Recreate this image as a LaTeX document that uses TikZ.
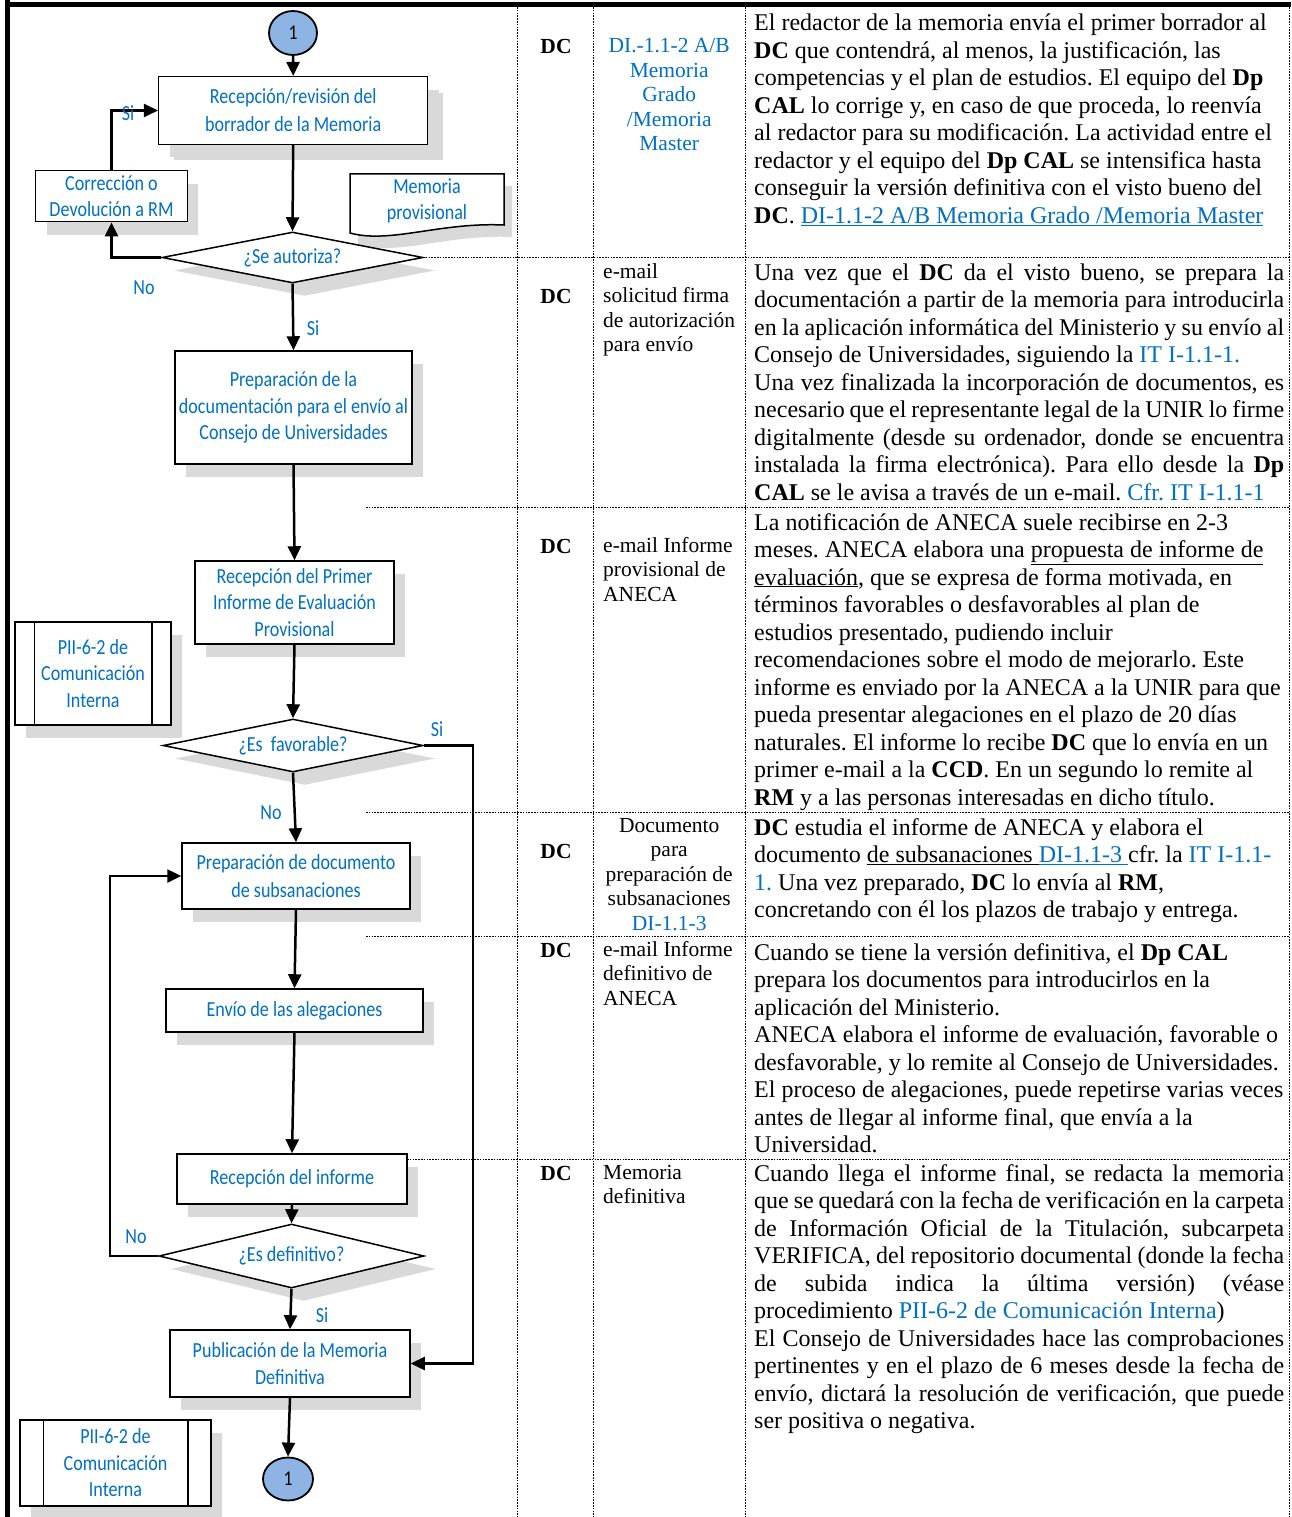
\documentclass[tikz,border=0pt]{standalone}
\usepackage{fontspec}
\setmainfont{Liberation Serif}
\newfontfamily\flowfont[FakeStretch=0.84]{Carlito}
\usetikzlibrary{shapes.geometric,arrows.meta,shadows}
\definecolor{fblue}{RGB}{0,112,192}
\definecolor{cfill}{RGB}{141,180,226}
\definecolor{shad}{RGB}{217,217,217}
\newcommand\J[1]{\hbox to 530pt{#1}}
\newcommand\Rl[1]{\hbox{#1}}
\newcommand\Cc[1]{\hbox to 152pt{\hfil#1\hfil}}
\newcommand\bl[1]{\textcolor{fblue}{#1}}
\newcommand\rowfont{\frenchspacing\fontsize{24}{27.5}\selectfont}
\newcommand\colfont{\frenchspacing\fontsize{21.5}{24.5}\selectfont}
\frenchspacing
\begin{document}
\begin{tikzpicture}[x=1pt,y=-1pt,
 fl/.style={font=\flowfont\fontsize{21.5}{26.5}\selectfont, text=fblue, align=center, inner sep=0pt},
 lbl/.style={font=\flowfont\fontsize{21.5}{26.5}\selectfont, text=fblue, inner sep=0pt},
 box/.style={fl, draw=black, line width=1.5pt, fill=white, drop shadow={shadow xshift=11pt, shadow yshift=-13pt, fill=shad, opacity=1}},
 dia/.style={fl, diamond, aspect=5, draw=black, line width=1.5pt, fill=white, drop shadow={shadow xshift=12pt, shadow yshift=-13pt, fill=shad, opacity=1}},
 conn/.style={ellipse, draw=black, line width=1.8pt, fill=cfill, inner sep=0pt, minimum width=48pt, minimum height=44pt, font=\flowfont\fontsize{21}{24}\selectfont},
 arr/.style={line width=2.5pt, -{Triangle[length=14pt,width=13pt]}},
 rule/.style={line width=0.9pt, dash pattern=on 1.6pt off 1.2pt},
 cell/.style={anchor=base west, inner sep=0pt}
]
\useasboundingbox (0,0) rectangle (1291,1517);
\fill[white] (0,0) rectangle (1291,1517);

% ---- table rules ----
\draw[rule] (517,7) -- (517,1517);
\draw[rule] (593,7) -- (593,1517);
\draw[rule] (745,7) -- (745,1517);
\draw[rule] (1289,7) -- (1289,1517);
\draw[rule] (423,257.5) -- (1289,257.5);
\draw[rule] (366,507) -- (1289,507);
\draw[rule] (366,812) -- (1289,812);
\draw[rule] (366,936) -- (1289,936);
\draw[rule] (407,1159) -- (1289,1159);
\draw[line width=5pt] (7,0) -- (7,1517);
\draw[line width=5pt] (4.5,4.5) -- (1291,4.5);

% ---- flowchart ----
\node[conn] (c1) at (293,33) {1};
\node[box, minimum width=269pt, minimum height=67.6pt, drop shadow={shadow xshift=15pt, shadow yshift=-16pt, fill=shad, opacity=1}] (b1) at (293.2,110.5) {Recepción/revisión del\\[1.5pt]borrador de la Memoria};
\node[box, minimum width=151.6pt, minimum height=51pt] (corr) at (111.5,196.2) {Corrección o\\Devolución a RM};
\fill[shad, shift={(8,12)}] (350,174) -- (504,174) -- (504,225) .. controls (440,222) and (390,244) .. (350,233) -- cycle;
\draw[line width=1.5pt, fill=white] (350,174) -- (504,174) -- (504,225) .. controls (440,222) and (390,244) .. (350,233) -- cycle;
\node[fl] (doc) at (427,201) {Memoria\\provisional};
\node[dia, minimum width=261pt, minimum height=51pt] (d1) at (292.5,257.5) {¿Se autoriza?};
\node[box, minimum width=237pt, minimum height=113pt] (b2) at (293.5,407.5) {Preparación de la\\documentación para el envío al\\Consejo de Universidades};
\node[box, minimum width=199pt, minimum height=83pt] (b3) at (294.5,602.5) {Recepción del Primer\\Informe de Evaluación\\Provisional};
\node[box, minimum width=156pt, minimum height=103pt] (pii1) at (93,673.5) {PII-6-2 de\\Comunicación\\Interna};
\draw[line width=1.5pt] ([xshift=20pt]pii1.north west) -- ([xshift=20pt]pii1.south west);
\draw[line width=1.5pt] ([xshift=-20pt]pii1.north east) -- ([xshift=-20pt]pii1.south east);
\node[dia, minimum width=260pt, minimum height=53pt] (d2) at (293,745.5) {¿Es\ \ favorable?};
\node[box, minimum width=228pt, minimum height=66pt] (b4) at (296,876) {Preparación de documento\\[1.5pt]de subsanaciones};
\node[box, minimum width=257pt, minimum height=43pt] (b5) at (294.5,1010.5) {Envío de las alegaciones};
\node[box, minimum width=230pt, minimum height=50pt] (b6) at (292,1179) {Recepción del informe};
\node[dia, minimum width=265pt, minimum height=64pt] (d3) at (291.5,1256) {¿Es definitivo?};
\node[box, minimum width=240pt, minimum height=67pt] (b7) at (290,1363.5) {Publicación de la Memoria\\Definitiva};
\node[conn, minimum width=50pt, minimum height=43pt] (c2) at (288,1479) {1};
\node[box, minimum width=191pt, minimum height=86pt] (pii2) at (115.5,1463) {PII-6-2 de\\Comunicación\\Interna};
\draw[line width=1.5pt] ([xshift=24pt]pii2.north west) -- ([xshift=24pt]pii2.south west);
\draw[line width=1.5pt] ([xshift=-24pt]pii2.north east) -- ([xshift=-24pt]pii2.south east);

\coordinate (sr) at (473,745.5);
\coordinate (nl) at (110,1256);
\draw[arr] (c1.south) -- (b1.north);
\draw[arr] (b1.south) -- (d1.north);
\draw[arr] (d1.west) -| (corr.south);
\draw[arr] (corr.north) |- (b1.west);
\draw[arr] (d1.south) -- (b2.north);
\draw[arr] (b2.south) -- (b3.north);
\draw[arr] (b3.south) -- (d2.north);
\draw[arr] (d2.south) -- (b4.north);
\draw[arr] (d2.east) -- (sr) |- (b7.east);
\draw[arr] (b4.south) -- (b5.north);
\draw[arr] (b5.south) -- (b6.north);
\draw[arr] (b6.south) -- (d3.north);
\draw[arr] (d3.west) -- (nl) |- (b4.west);
\draw[arr] (d3.south) -- (b7.north);
\draw[arr] (b7.south) -- (c2.north);

\node[lbl] (l1) at (128,113) {Si};
\node[lbl] (l2) at (144,288) {No};
\node[lbl] (l3) at (313,328) {Si};
\node[lbl] (l4) at (437,729) {Si};
\node[lbl] (l5) at (271,813) {No};
\node[lbl] (l6) at (136,1237) {No};
\node[lbl] (l7) at (322,1315) {Si};

% ---- column 1 ----
\node[anchor=base, inner sep=0pt, font=\colfont] (dc1) at (556,54) {\textbf{DC}};
\node[anchor=base, inner sep=0pt, font=\colfont] (dc2) at (556,303) {\textbf{DC}};
\node[anchor=base, inner sep=0pt, font=\colfont] (dc3) at (556,553) {\textbf{DC}};
\node[anchor=base, inner sep=0pt, font=\colfont] (dc4) at (556,858) {\textbf{DC}};
\node[anchor=base, inner sep=0pt, font=\colfont] (dc5) at (556,957) {\textbf{DC}};
\node[anchor=base, inner sep=0pt, font=\colfont] (dc6) at (556,1180) {\textbf{DC}};

% ---- column 2 ----
\node[cell, text=fblue] (e1) at (593,53) {\vtop{\colfont
 \Cc{DI.-1.1-2 A/B}\Cc{Memoria}\Cc{Grado}\Cc{/Memoria}\Cc{Master}}};
\node[cell] (e2) at (603,278) {\vtop{\colfont
 \Rl{e-mail}\Rl{solicitud firma}\Rl{de autorización}\Rl{para envío}}};
\node[cell] (e3) at (603,552) {\vtop{\colfont
 \Rl{e-mail Informe}\Rl{provisional de}\Rl{ANECA}}};
\node[cell] (e4) at (593,832) {\vtop{\colfont
 \Cc{Documento}\Cc{para}\Cc{preparación de}\Cc{subsanaciones}\Cc{\bl{DI-1.1-3}}}};
\node[cell] (e5) at (603,956) {\vtop{\colfont
 \Rl{e-mail Informe}\Rl{definitivo de}\Rl{ANECA}}};
\node[cell] (e6) at (603,1179) {\vtop{\colfont
 \Rl{Memoria}\Rl{definitiva}}};

% ---- column 3 ----
\node[cell] (t1) at (754,31) {\vtop{\rowfont
 \Rl{El redactor de la memoria envía el primer borrador al}
 \Rl{\textbf{DC} que contendrá, al menos, la justificación, las}
 \Rl{competencias y el plan de estudios. El equipo del \textbf{Dp}}
 \Rl{\textbf{CAL} lo corrige y, en caso de que proceda, lo reenvía}
 \Rl{al redactor para su modificación. La actividad entre el}
 \Rl{redactor y el equipo del \textbf{Dp CAL} se intensifica hasta}
 \Rl{conseguir la versión definitiva con el visto bueno del}
 \Rl{\textbf{DC}. \textcolor{fblue}{\underline{DI-1.1-2 A/B Memoria Grado /Memoria Master}}}}};
\node[cell] (t2) at (754,280) {\vtop{\rowfont
 \J{Una vez que el \textbf{DC} da el visto bueno, se prepara la}
 \J{documentación a partir de la memoria para introducirla}
 \J{en la aplicación informática del Ministerio y su envío al}
 \Rl{Consejo de Universidades, siguiendo la \bl{IT I-1.1-1.}}
 \J{Una vez finalizada la incorporación de documentos, es}
 \J{necesario que el representante legal de la UNIR lo firme}
 \J{digitalmente (desde su ordenador, donde se encuentra}
 \J{instalada la firma electrónica). Para ello desde la \textbf{Dp}}
 \Rl{\textbf{CAL} se le avisa a través de un e-mail. \bl{Cfr. IT I-1.1-1}}}};
\node[cell] (t3) at (754,530) {\vtop{\rowfont
 \Rl{La notificación de ANECA suele recibirse en 2-3}
 \Rl{meses. ANECA elabora una \underline{propuesta de informe de}}
 \Rl{\underline{evaluación}, que se expresa de forma motivada, en}
 \Rl{términos favorables o desfavorables al plan de}
 \Rl{estudios presentado, pudiendo incluir}
 \Rl{recomendaciones sobre el modo de mejorarlo. Este}
 \Rl{informe es enviado por la ANECA a la UNIR para que}
 \Rl{pueda presentar alegaciones en el plazo de 20 días}
 \Rl{naturales. El informe lo recibe \textbf{DC} que lo envía en un}
 \Rl{primer e-mail a la \textbf{CCD}. En un segundo lo remite al}
 \Rl{\textbf{RM} y a las personas interesadas en dicho título.}}};
\node[cell] (t4) at (754,835) {\vtop{\rowfont
 \Rl{\textbf{DC} estudia el informe de ANECA y elabora el}
 \Rl{documento \underline{de subsanaciones }\textcolor{fblue}{\underline{DI-1.1-3 }}cfr. la \bl{IT I-1.1-}}
 \Rl{\bl{1.} Una vez preparado, \textbf{DC} lo envía al \textbf{RM},}
 \Rl{concretando con él los plazos de trabajo y entrega.}}};
\node[cell] (t5) at (754,960) {\vtop{\rowfont
 \Rl{Cuando se tiene la versión definitiva, el \textbf{Dp CAL}}
 \Rl{prepara los documentos para introducirlos en la}
 \Rl{aplicación del Ministerio.}
 \Rl{ANECA elabora el informe de evaluación, favorable o}
 \Rl{desfavorable, y lo remite al Consejo de Universidades.}
 \Rl{El proceso de alegaciones, puede repetirse varias veces}
 \Rl{antes de llegar al informe final, que envía a la}
 \Rl{Universidad.}}};
\node[cell] (t6) at (754,1181) {\vtop{\rowfont
 \J{Cuando llega el informe final, se redacta la memoria}
 \J{que se quedará con la fecha de verificación en la carpeta}
 \J{de Información Oficial de la Titulación, subcarpeta}
 \J{VERIFICA, del repositorio documental (donde la fecha}
 \J{de subida indica la última versión) (véase}
 \Rl{procedimiento \bl{PII-6-2 de Comunicación Interna})}
 \J{El Consejo de Universidades hace las comprobaciones}
 \J{pertinentes y en el plazo de 6 meses desde la fecha de}
 \J{envío, dictará la resolución de verificación, que puede}
 \Rl{ser positiva o negativa.}}};
\end{tikzpicture}
\end{document}
